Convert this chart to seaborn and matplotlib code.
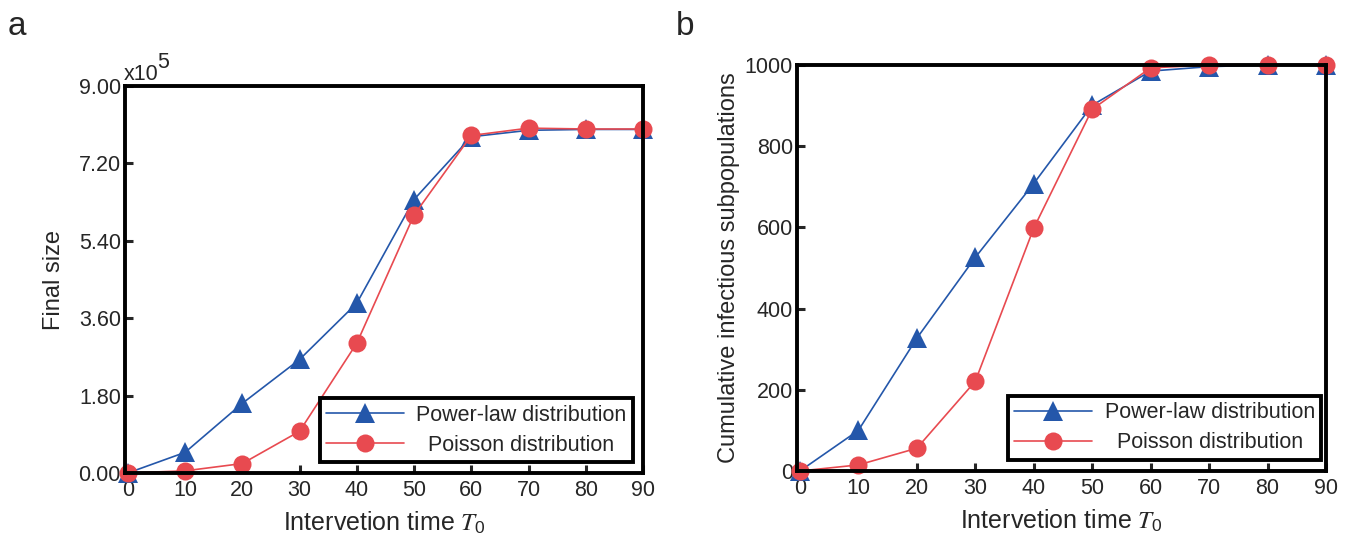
import matplotlib
matplotlib.use("Agg")
import matplotlib.pyplot as plt
from matplotlib.lines import Line2D
import seaborn as sns
import pandas as pd

# Intervention time T0
t0 = [0, 10, 20, 30, 40, 50, 60, 70, 80, 90]

# Final epidemic size (in units of 1e5)
powerlaw_size = [0.00, 0.48, 1.62, 2.64, 3.95, 6.36, 7.82, 7.97, 7.99, 7.99]
poisson_size = [0.00, 0.05, 0.22, 0.97, 3.02, 6.00, 7.85, 8.02, 8.00, 8.00]

# Cumulative number of infectious subpopulations
powerlaw_subpop = [0, 100, 327, 526, 708, 901, 985, 996, 1000, 1000]
poisson_subpop = [0, 15, 56, 221, 598, 891, 993, 1000, 1000, 1000]

size_ticks = [0.0, 1.8, 3.6, 5.4, 7.2, 9.0]
subpop_ticks = [0, 200, 400, 600, 800, 1000]
x_ticks = [0, 10, 20, 30, 40, 50, 60, 70, 80, 90]

series_names = ["Power-law distribution", "Poisson distribution"]
legend_labels = ["Power-law distribution", "  Poisson distribution"]

sns.set_style("ticks")
plt.rcParams["font.family"] = ["Liberation Sans", "DejaVu Sans"]
plt.rcParams["mathtext.fontset"] = "stix"

BLUE = "#2457AA"
RED = "#E84A50"
palette = {series_names[0]: BLUE, series_names[1]: RED}
markers = {series_names[0]: "^", series_names[1]: "o"}

W, H = 1352, 538
fig = plt.figure(figsize=(W / 100, H / 100), dpi=100)


def px_axes(left, top, right, bottom):
    return fig.add_axes([left / W, 1 - bottom / H, (right - left) / W, (bottom - top) / H])


ax_a = px_axes(125, 86, 643, 473)
ax_b = px_axes(797, 65, 1326, 471)


def long_frame(y1, y2):
    return pd.DataFrame({
        "T0": t0 + t0,
        "value": y1 + y2,
        "dist": [series_names[0]] * len(t0) + [series_names[1]] * len(t0),
    })


def draw(ax, y1, y2, yticks, ylim, ylabel, fmt, ylabelpad, leg_x):
    df = long_frame(y1, y2)
    sns.lineplot(data=df, x="T0", y="value", hue="dist", style="dist",
                 hue_order=series_names, style_order=series_names,
                 palette=palette, markers=markers, dashes=False,
                 linewidth=1.2, markersize=13, markeredgewidth=0,
                 legend=False, ax=ax)
    for ln in ax.lines:
        ln.set_clip_on(False)
        if ln.get_marker() == "^":
            ln.set_markersize(14.5)
    ax.set_xlim(-0.5, 90)
    ax.set_ylim(*ylim)
    ax.set_xticks(x_ticks)
    ax.set_yticks(yticks)
    ax.set_yticklabels([fmt(v) for v in yticks])
    ax.tick_params(direction="in", length=6, width=2.2, labelsize=15.5,
                   top=False, right=False)
    ax.tick_params(axis="x", pad=5)
    ax.tick_params(axis="y", pad=3)
    for sp in ax.spines.values():
        sp.set_visible(True)
        sp.set_linewidth(2.8)
        sp.set_color("black")
    ax.set_xlabel(r"Intervetion time $T_{\mathregular{0}}$", fontsize=18, labelpad=6)
    ax.set_ylabel(ylabel, fontsize=17, labelpad=ylabelpad)

    handles = [
        Line2D([], [], color=BLUE, lw=1.2, marker="^", markersize=14.5, mew=0),
        Line2D([], [], color=RED, lw=1.2, marker="o", markersize=13, mew=0),
    ]
    leg = ax.legend(handles, legend_labels, loc="lower right",
                    bbox_to_anchor=(leg_x, 0.028), borderaxespad=0,
                    fontsize=15.5, handlelength=3.6, handletextpad=0.6,
                    labelspacing=0.42, borderpad=0.3, fancybox=False,
                    framealpha=1, edgecolor="black")
    leg.get_frame().set_linewidth(2.8)


draw(ax_a, powerlaw_size, poisson_size, size_ticks, (0, 9.0), "Final size",
     lambda v: f"{v:.2f}", 10, 0.981)
draw(ax_b, powerlaw_subpop, poisson_subpop, subpop_ticks, (0, 1000),
     "Cumulative infectious subpopulations", lambda v: f"{int(v)}", 3, 0.991)

# Exponent marker for the final-size axis
fig.text(124 / W, 1 - 80 / H, "x10", fontsize=15.5, ha="left", va="baseline")
fig.text(157 / W, 1 - 68 / H, "5", fontsize=15.5, ha="left", va="baseline")

# Panel letters
fig.text(8 / W, 1 - 35 / H, "a", fontsize=24, ha="left", va="baseline")
fig.text(676 / W, 1 - 35 / H, "b", fontsize=24, ha="left", va="baseline")

fig.savefig("out.png", dpi=100)
